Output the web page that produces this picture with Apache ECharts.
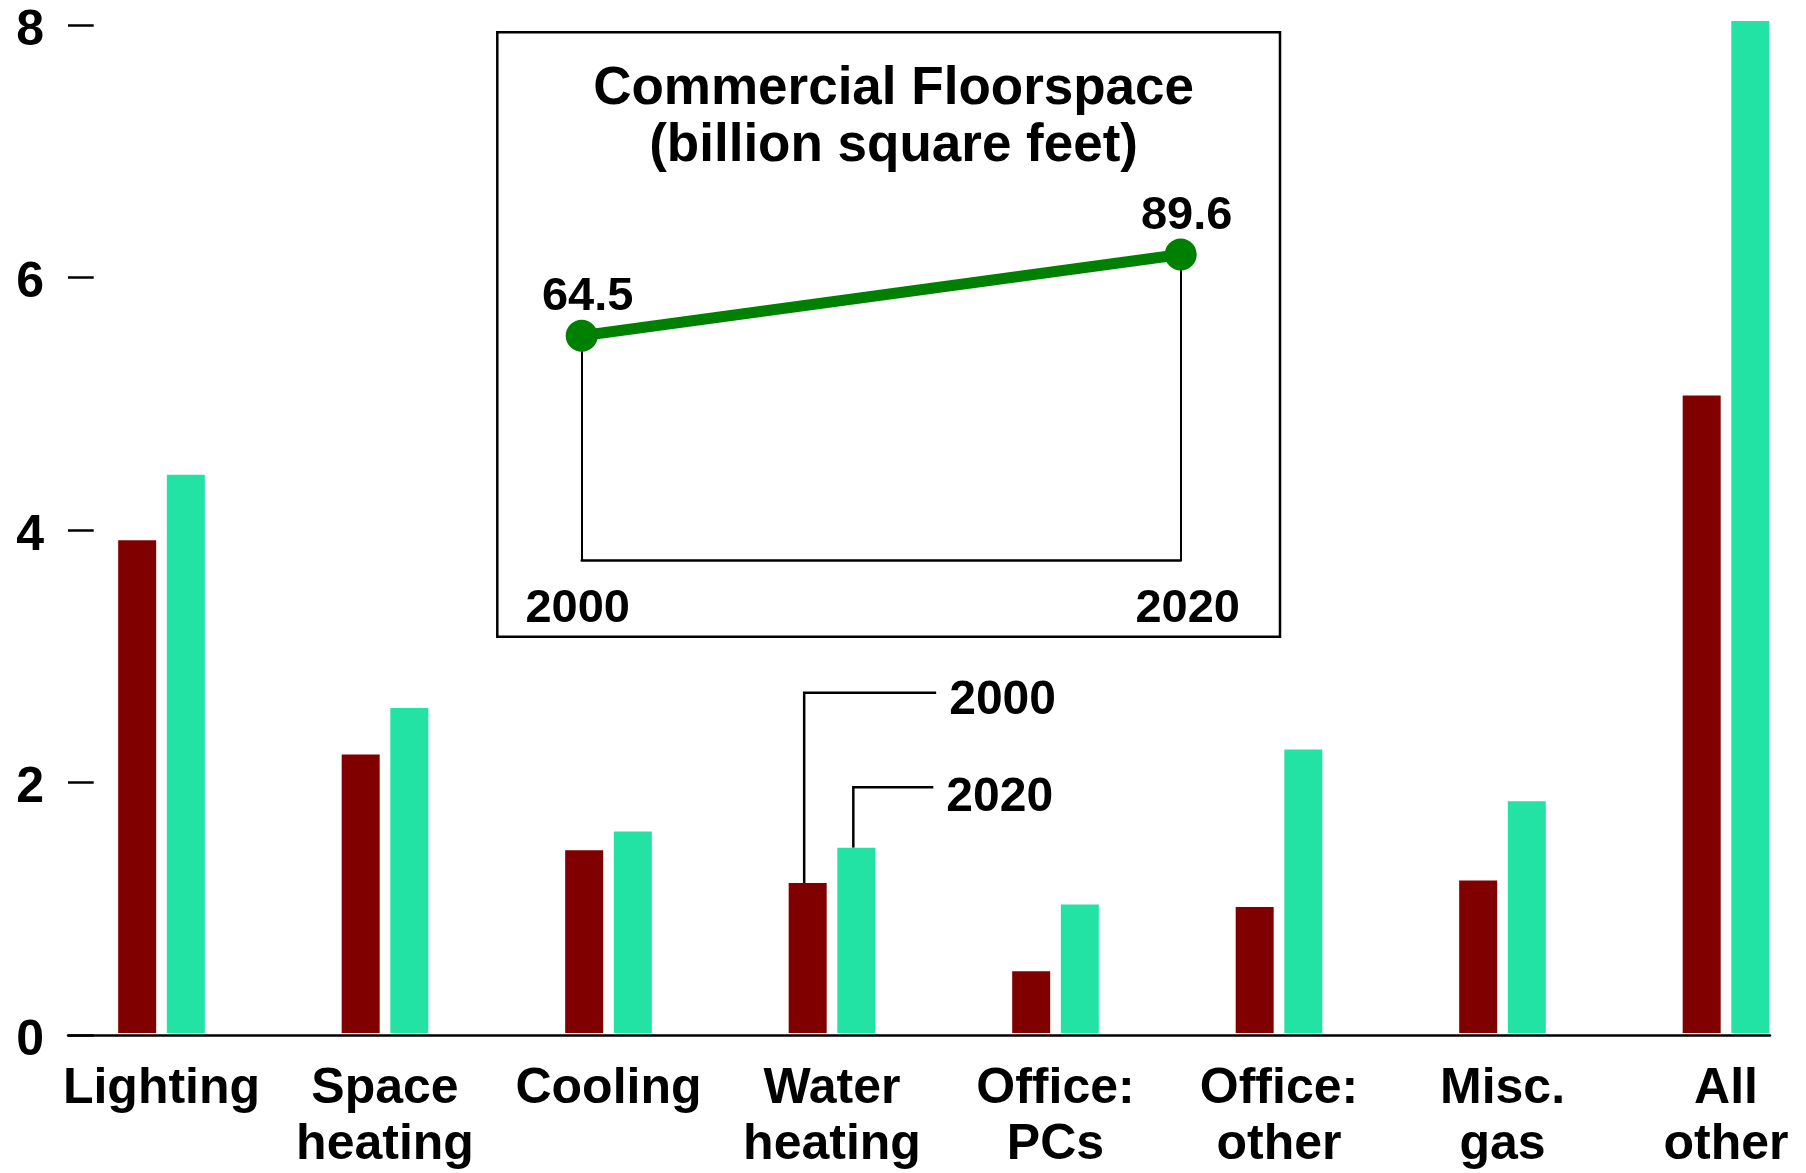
<!DOCTYPE html>
<html>
<head>
<meta charset="utf-8">
<script src="https://cdn.jsdelivr.net/npm/echarts@6/dist/echarts.min.js"></script>
<style>
  html, body { margin: 0; padding: 0; background: #fff; }
  #chartmain { width: 1806px; height: 1173px; }
</style>
</head>
<body>
<div id="chartmain"></div>
<script>
// categories and values (quadrillion Btu)
var categories = ['Lighting', 'Space\nheating', 'Cooling', 'Water\nheating', 'Office:\nPCs', 'Office:\nother', 'Misc.\ngas', 'All\nother'];
var val2000 = [3.91, 2.21, 1.45, 1.19, 0.49, 1.00, 1.21, 5.06];
var val2020 = [4.43, 2.58, 1.60, 1.47, 1.02, 2.25, 1.84, 8.03];
var yTicks = [0, 2, 4, 6, 8];

// inset: commercial floorspace
var floorYears = ['2000', '2020'];
var floorValues = [64.5, 89.6];

var FONT = '"Liberation Sans", Arial, Helvetica, sans-serif';
var RED = '#800000';
var TEAL = '#22e3a3';
var GREEN = '#008000';

var myChart = echarts.init(document.getElementById('chartmain'));

myChart.setOption({
    backgroundColor: '#fff',
    animation: false,
    title: {
        text: 'Commercial Floorspace\n(billion square feet)',
        left: 888.6,
        top: 56,
        textAlign: 'center',
        textStyle: { fontFamily: FONT, fontWeight: 'bold', fontSize: 53, lineHeight: 57, color: '#000' }
    },
    grid: [
        // bars
        { left: 161.5, right: 80, top: 24.9, bottom: 137.7 },
        // main axes frame (ticks + baseline)
        { left: 68, right: 36, top: 24.9, bottom: 137.7 },
        // inset line chart
        { left: 581.7, right: 625.3, top: 220.8, bottom: 612.3 }
    ],
    xAxis: [
        {
            gridIndex: 0, type: 'category', data: categories, boundaryGap: false,
            axisLine: { show: false }, axisTick: { show: false },
            axisLabel: {
                interval: 0, margin: 28, color: '#000',
                fontFamily: FONT, fontWeight: 'bold', fontSize: 50, lineHeight: 56
            }
        },
        {
            gridIndex: 1, type: 'value', min: 0, max: 1,
            axisLine: { show: true, lineStyle: { color: '#000', width: 2.5 } },
            axisTick: { show: false }, axisLabel: { show: false }, splitLine: { show: false }
        },
        {
            gridIndex: 2, type: 'category', data: floorYears, boundaryGap: false,
            axisLine: { show: true, onZero: false, lineStyle: { color: '#000', width: 2.5 } },
            axisTick: { show: false },
            axisLabel: {
                margin: 25, color: '#000', fontFamily: FONT, fontWeight: 'bold', fontSize: 47, lineHeight: 47,
                formatter: function (v, i) { return i === 0 ? '{a|' + v + '}' : '{b|' + v + '}'; },
                rich: {
                    a: { fontFamily: FONT, fontWeight: 'bold', fontSize: 47, color: '#000', padding: [0, 8, 0, 0] },
                    b: { fontFamily: FONT, fontWeight: 'bold', fontSize: 47, color: '#000', padding: [0, 0, 0, 14] }
                }
            }
        }
    ],
    yAxis: [
        { gridIndex: 0, type: 'value', min: 0, max: 8, show: false },
        {
            gridIndex: 1, type: 'value', min: 0, max: 8, interval: 2,
            axisLine: { show: false },
            axisTick: { show: true, inside: true, length: 25.7, lineStyle: { color: '#000', width: 2.5 } },
            axisLabel: {
                margin: 24, color: '#000', fontFamily: FONT, fontWeight: 'bold', fontSize: 50,
                verticalAlign: 'top', lineHeight: 12,
                formatter: function (v) { return yTicks.indexOf(v) >= 0 ? String(v) : ''; }
            },
            splitLine: { show: false }
        },
        { gridIndex: 2, type: 'value', min: -5, max: 100, show: false }
    ],
    series: [
        {
            name: '2000', type: 'bar', xAxisIndex: 0, yAxisIndex: 0,
            data: val2000, barWidth: 38, barGap: '28%', clip: false,
            itemStyle: { color: RED }
        },
        {
            name: '2020', type: 'bar', xAxisIndex: 0, yAxisIndex: 0,
            data: val2020, barWidth: 38, barGap: '28%', clip: false,
            itemStyle: { color: TEAL }
        },
        {
            name: 'Floorspace', type: 'line', xAxisIndex: 2, yAxisIndex: 2,
            data: floorValues,
            symbol: 'circle', symbolSize: 32,
            lineStyle: { color: GREEN, width: 11 },
            itemStyle: { color: GREEN },
            label: {
                show: true, position: 'top', distance: 0, offset: [6, 1],
                color: '#000', fontFamily: FONT, fontWeight: 'bold', fontSize: 47, lineHeight: 47
            },
            markLine: {
                silent: true, symbol: 'none', z: 1,
                label: { show: false },
                lineStyle: { color: '#000', width: 2, type: 'solid' },
                data: floorValues.map(function (v, i) {
                    return [{ coord: [i, -5] }, { coord: [i, v] }];
                })
            },
            z: 5
        }
    ]
});

// callout lines for the two years, hung on the water heating bars
var calloutIdx = 3;
var barHalfStep = (38 + 38 * 0.28) / 2;
var calloutSpec = [
    { name: '2000', value: val2000[calloutIdx], dx: -barHalfStep - 3.5, leaderY: 2.70, run: 132, dy: 8 },
    { name: '2020', value: val2020[calloutIdx], dx: barHalfStep - 3, leaderY: 1.95, run: 80, dy: 10 }
];
var graphics = [];
calloutSpec.forEach(function (c) {
    var top = myChart.convertToPixel({ gridIndex: 0 }, [calloutIdx, c.value]);
    var lead = myChart.convertToPixel({ gridIndex: 0 }, [calloutIdx, c.leaderY]);
    var x = top[0] + c.dx;
    graphics.push({
        type: 'polyline',
        shape: { points: [[x, top[1]], [x, lead[1]], [x + c.run, lead[1]]] },
        style: { stroke: '#000', lineWidth: 2.5, fill: null }
    });
    graphics.push({
        type: 'text',
        x: x + c.run + 13,
        y: lead[1] + c.dy,
        style: {
            text: c.name, fill: '#000',
            font: 'bold 48px ' + FONT,
            verticalAlign: 'middle', align: 'left'
        }
    });
});
// inset frame
graphics.push({
    type: 'rect',
    shape: { x: 497.3, y: 32.3, width: 782.7, height: 604.4 },
    style: { stroke: '#000', lineWidth: 2.5, fill: null },
    z: 0
});
myChart.setOption({ graphic: graphics });
</script>
</body>
</html>
